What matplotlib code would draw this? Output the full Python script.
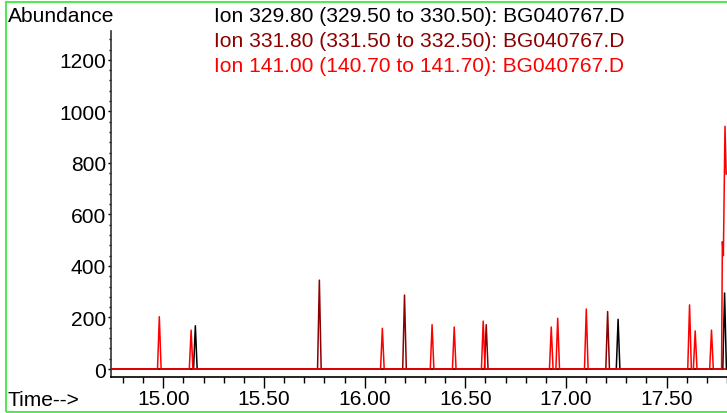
import matplotlib.pyplot as plt
from matplotlib.patches import Rectangle
from matplotlib.ticker import MultipleLocator, FormatStrFormatter

plt.rcParams['font.family'] = ['Liberation Sans', 'DejaVu Sans']

# peak apex times (min) and abundances
ion329_t = [15.159, 17.259, 17.788]
ion329_h = [168, 193, 295]

ion331_t = [15.775, 16.198, 16.604, 17.207]
ion331_h = [345, 287, 172, 223]

ion141_t = [14.980, 15.138, 16.088, 16.335, 16.445, 16.589, 16.927,
            16.959, 17.101, 17.614, 17.642, 17.723]
ion141_h = [203, 151, 158, 172, 163, 186, 163, 197, 233, 249, 148, 151]
# large peak at the right edge, cut off by the window
ion141_tail_t = [17.773, 17.777, 17.782, 17.790, 17.796]
ion141_tail_h = [0, 494, 440, 942, 757]

titles = ["Ion 329.80 (329.50 to 330.50): BG040767.D",
          "Ion 331.80 (331.50 to 332.50): BG040767.D",
          "Ion 141.00 (140.70 to 141.70): BG040767.D"]
colors = ["black", "#8c0000", "#ff0000"]

X0, X1 = 14.74, 17.80
HALF = 0.009  # half base width of a spike
FS = 15.1


def trace(times, heights, t_end=X1):
    xs, ys = [X0], [0]
    for t, h in zip(times, heights):
        xs += [t - HALF, t, t + HALF]
        ys += [0, h, 0]
    xs.append(t_end)
    ys.append(0)
    return xs, ys


W, H = 727, 414
fig = plt.figure(figsize=(W / 100, H / 100), dpi=100)
ax = fig.add_axes([111 / W, 1 - 377.5 / H, 1 - 111 / W, (377.5 - 32) / H])

x, y = trace(ion329_t, ion329_h)
ax.plot(x, y, color=colors[0], lw=1.1)
x, y = trace(ion331_t, ion331_h)
ax.plot(x, y, color=colors[1], lw=1.1)
x, y = trace(ion141_t, ion141_h, t_end=ion141_tail_t[0])
ax.plot(x + ion141_tail_t, y + ion141_tail_h, color=colors[2], lw=1.1)

ax.set_xlim(X0, X1)
ax.set_ylim(-29, 1312)

ax.xaxis.set_major_locator(MultipleLocator(0.5))
ax.xaxis.set_minor_locator(MultipleLocator(0.1))
ax.xaxis.set_major_formatter(FormatStrFormatter('%.2f'))
ax.yaxis.set_major_locator(MultipleLocator(200))
ax.yaxis.set_minor_locator(MultipleLocator(40))

ax.tick_params(axis='x', which='major', length=8, width=1, labelsize=FS, pad=1)
ax.tick_params(axis='x', which='minor', length=4, width=1)
ax.tick_params(axis='y', which='major', length=2.5, width=1, labelsize=FS, pad=1)
ax.tick_params(axis='y', which='minor', length=1.5, width=1)

for s in ['top', 'right']:
    ax.spines[s].set_visible(False)
ax.spines['left'].set_color('#333333')
ax.spines['left'].set_linewidth(1.2)
ax.spines['bottom'].set_linewidth(1.2)

fig.text(8 / W, 1 - 17 / H, "Abundance", fontsize=FS, ha='left', va='center')
fig.text(8 / W, 1 - 401 / H, "Time-->", fontsize=FS, ha='left', va='center')
for i, (t, c) in enumerate(zip(titles, colors)):
    fig.text(419 / W, 1 - (17 + 24.5 * i) / H, t, color=c, fontsize=FS,
             ha='center', va='center')

fig.patches.append(Rectangle((5.5 / W, 1.5 / H), 1.2, 1 - 4 / H,
                             transform=fig.transFigure, fill=False,
                             edgecolor='#55e855', lw=1.5))

fig.savefig('out.png', dpi=100)
